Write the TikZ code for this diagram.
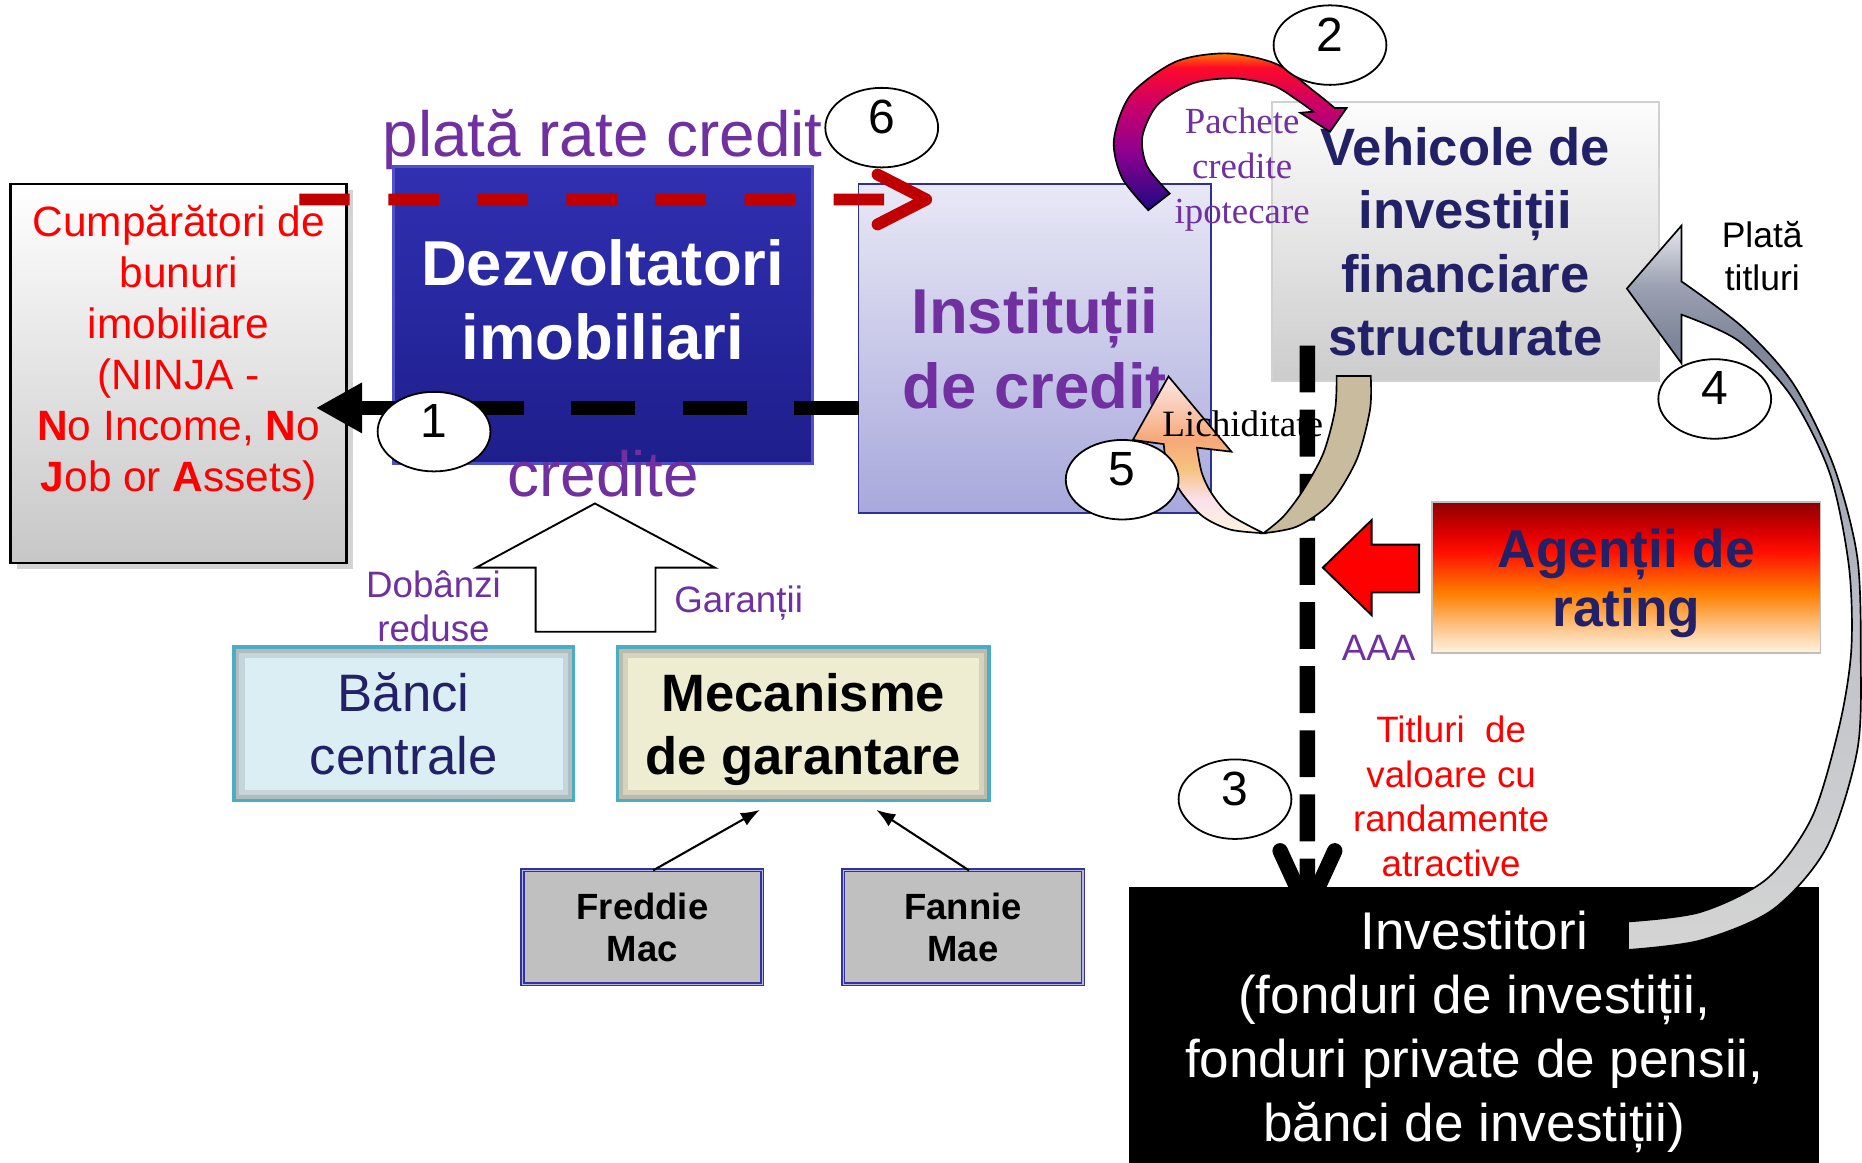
\documentclass[tikz,border=0pt]{standalone}
\usepackage{fontspec}
\setmainfont{Liberation Sans}
\newfontfamily\timesfont{Liberation Serif}
\usepackage{xcolor}
\usepackage{tikz}
\usetikzlibrary{shapes.geometric, arrows.meta, positioning, shadows}

\definecolor{plum}{HTML}{7030A0}
\definecolor{navytext}{RGB}{34,32,102}
\definecolor{darkred}{HTML}{C00000}
\definecolor{devtop}{RGB}{48,48,178}
\definecolor{devbot}{RGB}{30,30,140}
\definecolor{devrim}{RGB}{80,80,200}
\definecolor{insttop}{RGB}{232,232,246}
\definecolor{instbot}{RGB}{168,168,220}
\definecolor{instline}{HTML}{2E3192}
\definecolor{tealline}{HTML}{4BACC6}
\definecolor{cbfill}{HTML}{DAEEF3}
\definecolor{mechfill}{HTML}{EEECD1}
\definecolor{gseline}{RGB}{50,50,160}
\definecolor{gsefill}{HTML}{C0C0C0}
\definecolor{tanfill}{HTML}{C9BB9E}
% rating agencies box
\definecolor{agA}{HTML}{FFF4E0}
\definecolor{agB}{HTML}{FFC890}
\definecolor{agC}{HTML}{FF8000}
\definecolor{agD}{HTML}{FF1000}
\definecolor{agE}{HTML}{E00000}
\definecolor{agF}{HTML}{8C0000}
% arrow 2
\definecolor{pkA}{HTML}{1E0A82}
\definecolor{pkB}{HTML}{8A0090}
\definecolor{pkC}{HTML}{C8006A}
\definecolor{pkD}{HTML}{FF0A28}
\definecolor{pkE}{HTML}{FF7A00}
% arrow 4
\definecolor{grA}{HTML}{D4D4D4}
\definecolor{grB}{HTML}{C2C4CA}
\definecolor{grC}{HTML}{A3A8B5}
\definecolor{grD}{HTML}{7C8497}
\definecolor{grE}{HTML}{9CA2B2}
\definecolor{grF}{HTML}{E6E8EE}
% arrow 5
\definecolor{peA}{HTML}{FDF3DC}
\definecolor{peB}{HTML}{FBE0EC}
\definecolor{peC}{HTML}{F7C27E}
\definecolor{peD}{HTML}{F7A878}
\definecolor{peE}{HTML}{F9C8B0}
\definecolor{peF}{HTML}{FCE6E6}

\pgfdeclareverticalshading{ratingshade}{100bp}{color(0bp)=(agA); color(25bp)=(agA); color(33bp)=(agB); color(44.7bp)=(agC); color(58.5bp)=(agD); color(64.4bp)=(agE); color(75bp)=(agF); color(100bp)=(agF)}
\pgfdeclareverticalshading{pkshade}{100bp}{color(0bp)=(pkA); color(25bp)=(pkA); color(43bp)=(pkB); color(58bp)=(pkC); color(70.5bp)=(pkD); color(75bp)=(pkE); color(100bp)=(pkE)}
\pgfdeclareverticalshading{grayshade}{100bp}{color(0bp)=(grA); color(25bp)=(grA); color(45.5bp)=(grB); color(57.8bp)=(grC); color(66.8bp)=(grD); color(70.9bp)=(grE); color(75bp)=(grF); color(100bp)=(grF)}
\pgfdeclareverticalshading{peachshade}{100bp}{color(0bp)=(peA); color(25bp)=(peA); color(36bp)=(peB); color(45.5bp)=(peC); color(54.9bp)=(peD); color(64.4bp)=(peE); color(75bp)=(peF); color(100bp)=(peF)}

\newcommand\fBigB{\fontsize{15.2}{17.9}\selectfont\bfseries}
\newcommand\fBig{\fontsize{15.3}{18}\selectfont}
\newcommand\fMid{\fontsize{12.63}{15.08}\selectfont}
\newcommand\fMidB{\fontsize{12.6}{15.1}\selectfont\bfseries}
\newcommand\fVeh{\fontsize{12.6}{15.17}\selectfont\bfseries}
\newcommand\fAg{\fontsize{12.75}{14.2}\selectfont\bfseries}
\newcommand\fInv{\fontsize{12.72}{15.37}\selectfont}
\newcommand\fCump{\fontsize{10.16}{12.23}\selectfont}
\newcommand\fSmall{\fontsize{8.8}{10.65}\selectfont}
\newcommand\fGse{\fontsize{8.74}{10.24}\selectfont\bfseries}
\newcommand\fPlata{\fontsize{8.5}{10.25}\selectfont}
\newcommand\fSerif{\timesfont\fontsize{8.82}{10.8}\selectfont}
\newcommand\fLich{\timesfont\fontsize{8.9}{10.7}\selectfont}
\newcommand\fNum{\fontsize{11.5}{13.8}\selectfont}

\begin{document}
\begin{tikzpicture}[x=0.1mm, y=-0.1mm,
	every node/.style={inner sep=0pt, outer sep=0pt},
	box/.style={rectangle, align=center},
	buyer/.style={box, draw=black, line width=0.22mm, top color=white, bottom color=black!22,
	              minimum width=28.3mm, minimum height=31.9mm,
	              drop shadow={shadow xshift=0.5mm, shadow yshift=-0.5mm, opacity=0.35}},
	devbox/.style={box, draw=devrim, line width=0.25mm, top color=devtop, bottom color=devbot,
	               minimum width=35.3mm, minimum height=25mm},
	instbox/.style={box, draw=instline, line width=0.15mm, top color=insttop, bottom color=instbot,
	                minimum width=29.7mm, minimum height=27.7mm, text=plum, font=\fBigB},
	vehbox/.style={box, draw=black!18, line width=0.15mm, top color=black!1, bottom color=black!20,
	               minimum width=32.6mm, minimum height=23.5mm, text=navytext, font=\fVeh},
	ratebox/.style={box, draw=black!25, line width=0.15mm, shading=ratingshade,
	                minimum width=32.7mm, minimum height=12.7mm, text=navytext, font=\fAg,
	                text depth=0pt},
	invbox/.style={box, fill=black, minimum width=58.1mm, minimum height=24.4mm,
	               text=white, font=\fInv},
	innershade/.style={path picture={
	    \draw[black!60, line width=1.8mm, opacity=0.18] (path picture bounding box.south west) rectangle (path picture bounding box.north east);
	    \draw[black!60, line width=0.9mm, opacity=0.22] (path picture bounding box.south west) rectangle (path picture bounding box.north east);}},
	cbbox/.style={box, draw=tealline, line width=0.3mm, fill=cbfill, innershade,
	              minimum width=28.6mm, minimum height=12.9mm, text=navytext, font=\fMid},
	mechbox/.style={box, draw=tealline, line width=0.3mm, fill=mechfill, innershade,
	                minimum width=31.3mm, minimum height=12.9mm, text=black, font=\fMidB,
	                text depth=0pt},
	gsebox/.style={box, draw=gseline, double=gseline!35, line width=0.12mm, double distance=0.1mm,
	               fill=gsefill, minimum width=20.2mm, minimum height=9.6mm, font=\fGse},
	nr/.style={ellipse, draw=black, line width=0.15mm, fill=white, minimum width=9.5mm,
	           minimum height=6.7mm, font=\fNum, text depth=1.8mm},
	lbl/.style={align=center},
	paydash/.style={draw=darkred, line width=1mm, dash pattern=on 4.25mm off 3.25mm,
	                -{Straight Barb[length=4.1mm, width=4.2mm, round]}},
	loandash/.style={draw=black, line width=1.2mm, dash pattern=on 5.4mm off 4mm,
	                 -{Triangle[length=3.9mm, width=4mm]}},
	secdash/.style={draw=black, line width=1.3mm, dash pattern=on 3.95mm off 1.45mm,
	                -{Straight Barb[length=5mm, width=4.6mm, round]}},
	thinarr/.style={draw=black, line width=0.5pt, -{Latex[length=1.6mm, width=1.2mm]}},
	blockarr/.style={draw=black, line width=0.45pt}
	]
	\useasboundingbox (0,0) rectangle (1568,979);

	% boxes
	\node[buyer] (cump) at (150.5,314.5) {};
	\node[box, text=red, font=\fCump, yshift=1.75mm] (cumptext) at (cump) {Cumpărători de\\bunuri\\imobiliare\\(NINJA -\\\textbf{N}o Income, \textbf{N}o\\\textbf{J}ob or \textbf{A}ssets)};
	\node[devbox] (dezv) at (507.5,265) {};
	\node[box, text=white, font=\fBigB, yshift=1.25mm] (dezvtext) at (dezv) {Dezvoltatori\\imobiliari};
	\node[instbox] (inst) at (871.5,293.5) {Instituții\\de credit};
	\node[vehbox] (vehi) at (1234,203.5) {Vehicole de\\investiții\\financiare\\structurate};
	\node[ratebox] (agen) at (1369.5,486.5) {Agenții de\\rating};
	\node[invbox] (inv) at (1241.5,869) {Investitori\\(fonduri de investiții,\\fonduri private de pensii,\\bănci de investiții)};
	\node[cbbox] (banci) at (340,609.5) {Bănci\\centrale};
	\node[mechbox, right=3.7mm of banci] (mecan) {Mecanisme\\de garantare};
	\node[gsebox] (freddie) at (541,781) {Freddie\\Mac};
	\node[gsebox, right=6.8mm of freddie] (fannie) {Fannie\\Mae};

	% dashed flows
	\draw[paydash] ([shift={(-40,13)}]cump.north east) -- ([shift={(62,13)}]inst.north west);
	\draw[loandash] ([shift={(0,50)}]inst.west) -- ([shift={(-26,29)}]cump.east);
	\draw[secdash] ([shift={(30,-30)}]vehi.south west) -- ([shift={(150,26)}]inv.north west);

	% block arrows
	\draw[blockarr, fill=white] (451,532) -- (451,478) -- (401,478) -- (501,424) -- (602,478) -- (552,478) -- (552,532) -- cycle;
	\draw[blockarr, fill=red] (1114,478) -- (1155,438) -- (1155,458.6) -- (1195,458.6) -- (1195,499) -- (1155,499) -- (1155,518) -- cycle;
	\draw[thinarr] ([xshift=0.9mm]freddie.north) -- ([shift={(-36.5,8)}]mecan.south);
	\draw[thinarr] ([xshift=0.5mm]fannie.north) -- ([shift={(61.5,8)}]mecan.south);

	% 2: packages of mortgage loans
	\shadedraw[shading=pkshade, draw=black, line width=0.4pt]
	  plot[smooth] coordinates {(967,177) (945,150) (938,118) (952,80) (990,52) (1033,45) (1075,54) (1108,78) (1124,91)}
	  -- (1134,91) -- (1120,111) -- (1095,95) -- (1106,94)
	  -- plot[smooth] coordinates {(1106,94) (1092,84) (1072,72) (1040,66) (1005,70) (975,88) (962,115) (966,140) (985,163)} -- cycle;

	% 5: liquidity
	\filldraw[fill=tanfill, draw=black, line width=0.4pt]
	  (1125.6,316.6) -- (1154.3,316.6)
	  -- plot[smooth] coordinates {(1154.3,316.6) (1153.7,345) (1142.5,387) (1120,424) (1092,443.5) (1064,449)}
	  -- plot[smooth] coordinates {(1064,449) (1080.7,435) (1097.5,412.6) (1114.4,381.7) (1124.2,345.3) (1125.6,316.6)} -- cycle;
	\shadedraw[shading=peachshade, draw=black, line width=0.4pt]
	  plot[smooth] coordinates {(1064,449) (1036,446) (1013,435) (995,415) (983,392) (980,374)}
	  -- (954,370.5) -- (984,317) -- (1037,380.4) -- (1008,377)
	  -- plot[smooth] coordinates {(1008,377) (1012,398) (1020,415) (1035,433) (1064,449)} -- cycle;

	% 4: payment for securities
	\shadedraw[shading=grayshade, draw=black, line width=0.4pt]
	  plot[smooth] coordinates {(1371,800) (1432,792) (1493,766) (1538,714) (1564,632) (1567,555) (1564,469) (1544,392) (1510,323) (1468,276) (1416,237)}
	  -- (1416,190) -- (1370,243) -- (1416,306) -- (1416,265)
	  -- plot[smooth] coordinates {(1416,265) (1464,287) (1508,333) (1541,399) (1557,477) (1559,547) (1549,611) (1526,688) (1488,740) (1432,768) (1371,776)} -- cycle;

	% labels
	\node[lbl, text=plum, font=\fBig, anchor=base] (ratelbl) at (507.5,132) {plată rate credit};
	\node[lbl, text=plum, font=\fBig, anchor=base] (credlbl) at (508,418) {credite};
	\node[lbl, text=plum, font=\fSmall] (doblbl) at (365,510.5) {Dobânzi\\reduse};
	\node[lbl, text=plum, font=\fSmall, anchor=base] (garlbl) at (622,516) {Garanții};
	\node[lbl, text=plum, font=\fSmall, anchor=base] (aaalbl) at (1161,556) {AAA};
	\node[lbl, text=red, font=\fSmall] (titlbl) at (1222,670.7) {Titluri~ de\\valoare cu\\randamente\\atractive};
	\node[lbl, font=\fPlata] (platalbl) at (1484,216) {Plată\\titluri};
	\node[lbl, text=plum, font=\fSerif] (pachlbl) at (1046,143) {Pachete\\credite\\ipotecare};
	\node[lbl, font=\fLich, anchor=base] (lichlbl) at (1046.5,368) {Lichiditate};

	% step numbers
	\node[nr] (n1) at (365.5,363.5) {1};
	\node[nr] (n2) at (1120,38) {2};
	\node[nr] (n3) at (1040,673) {3};
	\node[nr] (n4) at (1444,336) {4};
	\node[nr] (n5) at (945,404) {5};
	\node[nr] (n6) at (742.5,107.5) {6};
\end{tikzpicture}
\end{document}
